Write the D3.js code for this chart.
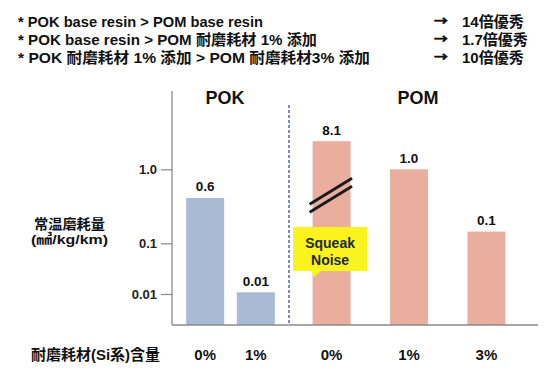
<!DOCTYPE html>
<html>
<head>
<meta charset="utf-8">
<script src="https://cdn.jsdelivr.net/npm/d3@7/dist/d3.min.js"></script>
<style>
  html, body { margin: 0; padding: 0; background: #fff; }
  svg { display: block; }
  text { font-family: "Liberation Sans", Arial, "Noto Sans CJK KR", sans-serif; }
</style>
</head>
<body>
<script>
// ---- data ----
const groups = ["POK", "POM"];
const pokCategories = ["0%", "1%"];
const pokValues = [0.41, 0.0108];          // plotted heights
const pokLabels = ["0.6", "0.01"];
const pomCategories = ["0%", "1%", "3%"];
const pomValues = [2.4, 1.0, 0.144];        // first bar is drawn broken
const pomLabels = ["8.1", "1.0", "0.1"];
const yTickValues = [1, 0.1, 0.01];
const yTickLabels = ["1.0", "0.1", "0.01"];
const headerRows = [
  "* POK base resin > POM base resin",
  "* POK base resin > POM 耐磨耗材 1% 添加",
  "* POK 耐磨耗材 1% 添加  > POM 耐磨耗材3% 添加"
];
const headerResults = ["14倍優秀", "1.7倍優秀", "10倍優秀"];
const yTitle = ["常温磨耗量", "(㎣/kg/km)"];
const xTitle = "耐磨耗材(Si系)含量";
const calloutLines = ["Squeak", "Noise"];

// ---- layout ----
const W = 550, H = 377;
const axisX = 172, axisTop = 91, baseY = 325, axisRight = 538, dividerX = 289;
const pokColor = "#a8bad4", pomColor = "#e9ae9e";

const svg = d3.select("body").append("svg").attr("width", W).attr("height", H);

// header
const headerWidths = [245, 299, 352];
headerRows.forEach((t, i) => {
  const yy = 26.5 + i * 18;
  svg.append("text").attr("x", 18).attr("y", yy)
    .attr("font-size", 15).attr("font-weight", "bold").attr("fill", "#111")
    .attr("textLength", headerWidths[i]).attr("lengthAdjust", "spacingAndGlyphs")
    .text(t);
  svg.append("text").attr("x", 434).attr("y", yy - 0.5)
    .attr("font-size", 12).attr("font-weight", "bold").attr("fill", "#111")
    .attr("stroke", "#111").attr("stroke-width", 0.6)
    .style("font-family", "'Noto Sans CJK KR', sans-serif")
    .attr("textLength", 14).attr("lengthAdjust", "spacingAndGlyphs")
    .text("→");
  svg.append("text").attr("x", 462).attr("y", yy)
    .attr("font-size", 15).attr("font-weight", "bold").attr("fill", "#111")
    .text(headerResults[i]);
});

// y scale: hand-spaced log axis (piecewise on log10)
const y = d3.scaleLinear().domain([-2, -1, 0]).range([294, 243.3, 169.3]);

const xPok = d3.scaleBand().domain(pokCategories).range([axisX, dividerX])
  .paddingInner(0.25).paddingOuter(0.28);
const xPom = d3.scaleBand().domain(pomCategories).range([dividerX, 529])
  .paddingInner(0.51).paddingOuter(0.305);

// axes lines
svg.append("line").attr("x1", axisX).attr("x2", axisX).attr("y1", axisTop).attr("y2", baseY)
  .attr("stroke", "#8a8a8a").attr("stroke-width", 1.3);

const yAxis = d3.axisLeft(y)
  .tickValues(yTickValues.map(Math.log10))
  .tickFormat((d, i) => yTickLabels[i])
  .tickSize(11).tickPadding(4);
const gy = svg.append("g").attr("transform", `translate(${axisX},0)`).call(yAxis);
gy.select(".domain").remove();
gy.selectAll(".tick line").attr("stroke", "#8a8a8a").attr("stroke-width", 1.2);
gy.selectAll(".tick text").attr("font-size", 13).attr("font-weight", "bold")
  .attr("fill", "#222").attr("font-family", "Liberation Sans, Arial, sans-serif");

// bars
function drawGroup(scale, cats, vals, labels, color) {
  const data = cats.map((c, i) => ({ c, v: vals[i], l: labels[i] }));
  const g = svg.append("g");
  g.selectAll("rect").data(data).join("rect")
    .attr("x", d => scale(d.c)).attr("width", scale.bandwidth())
    .attr("y", d => y(Math.log10(d.v)))
    .attr("height", d => baseY - y(Math.log10(d.v)))
    .attr("fill", color);
  g.selectAll("text.val").data(data).join("text").attr("class", "val")
    .attr("x", d => scale(d.c) + scale.bandwidth() / 2)
    .attr("y", d => y(Math.log10(d.v)) - 6.5)
    .attr("text-anchor", "middle").attr("font-size", 13.5).attr("font-weight", "bold")
    .attr("fill", "#111").text(d => d.l);
  g.selectAll("text.cat").data(data).join("text").attr("class", "cat")
    .attr("x", d => scale(d.c) + scale.bandwidth() / 2)
    .attr("y", 360)
    .attr("text-anchor", "middle").attr("font-size", 15).attr("font-weight", "bold")
    .attr("fill", "#111").text(d => d.c);
}
drawGroup(xPok, pokCategories, pokValues, pokLabels, pokColor);
drawGroup(xPom, pomCategories, pomValues, pomLabels, pomColor);

// baseline
svg.append("line").attr("x1", axisX).attr("x2", axisRight).attr("y1", baseY).attr("y2", baseY)
  .attr("stroke", "#8a8a8a").attr("stroke-width", 1.3);

// divider
svg.append("line").attr("x1", dividerX).attr("x2", dividerX).attr("y1", 105).attr("y2", baseY)
  .attr("stroke", "#3a5288").attr("stroke-width", 1.3).attr("stroke-dasharray", "3,2");

// group titles
svg.append("text").attr("x", 225).attr("y", 104).attr("text-anchor", "middle")
  .attr("font-size", 18).attr("font-weight", "bold").attr("fill", "#111").text(groups[0]);
svg.append("text").attr("x", 418).attr("y", 104).attr("text-anchor", "middle")
  .attr("font-size", 18).attr("font-weight", "bold").attr("fill", "#111").text(groups[1]);

// break marks on first POM bar
const bx0 = xPom(pomCategories[0]), bw = xPom.bandwidth();
[191.3, 199.2].forEach(cy => {
  svg.append("line").attr("x1", bx0 - 3).attr("x2", bx0 + bw + 1.5)
    .attr("y1", cy + 13).attr("y2", cy - 13)
    .attr("stroke", "#1a1a1a").attr("stroke-width", 2.8);
});

// callout
const cx = bx0 + bw / 2 - 1.5;
const boxL = cx - 37, boxR = cx + 37, boxT = 227, boxB = 271;
svg.append("path")
  .attr("d", `M${boxL},${boxT} H${boxR} V${boxB} H${boxL + 28} L${boxL + 21},${boxB + 6} L${boxL + 18},${boxB} H${boxL} Z`)
  .attr("fill", "#fbf31e");
calloutLines.forEach((t, i) => {
  svg.append("text").attr("x", cx).attr("y", 248 + i * 17).attr("text-anchor", "middle")
    .attr("font-size", 14).attr("font-weight", "bold").attr("fill", "#1d2a3a").text(t);
});

// y title
const yTitleWidths = [71, 77];
yTitle.forEach((t, i) => {
  svg.append("text").attr("x", 69.5).attr("y", 229 + i * 14.5).attr("text-anchor", "middle")
    .attr("font-size", 13.5).attr("font-weight", "bold").attr("fill", "#111")
    .attr("textLength", yTitleWidths[i]).attr("lengthAdjust", "spacingAndGlyphs").text(t);
});

// x title
svg.append("text").attr("x", 31).attr("y", 360)
  .attr("font-size", 15).attr("font-weight", "bold").attr("fill", "#111")
  .attr("textLength", 129).attr("lengthAdjust", "spacingAndGlyphs").text(xTitle);
</script>
</body>
</html>
